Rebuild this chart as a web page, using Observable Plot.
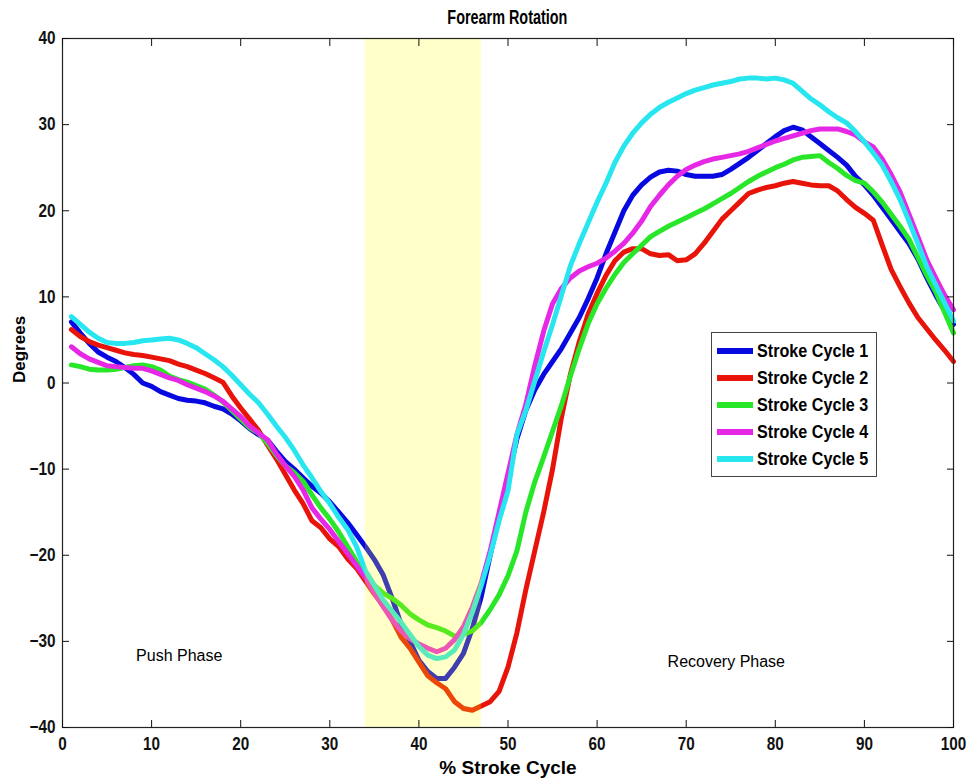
<!DOCTYPE html>
<html><head><meta charset="utf-8">
<script src="https://cdn.jsdelivr.net/npm/d3@7"></script>
<script src="https://cdn.jsdelivr.net/npm/@observablehq/plot@0.6"></script>
<style>
body{margin:0;background:#fff;}
#wrap{position:relative;width:970px;height:782px;font-family:"Liberation Sans",Arial,sans-serif;}
#title{position:absolute;left:62px;top:6px;width:891px;text-align:center;}
#title span{display:inline-block;font-weight:700;font-size:20px;color:#000;transform:scaleX(0.72);transform-origin:center;}
#legend{position:absolute;left:711px;top:332px;width:166px;height:145px;border:1px solid #444;background:#fff;box-sizing:border-box;padding-top:4px;}
.item{display:flex;align-items:center;height:27px;white-space:nowrap;}
.sw{width:36px;height:6px;margin-left:5px;margin-right:4px;flex:none;}
.lab{font-weight:bold;font-size:19px;color:#000;display:inline-block;transform:scaleX(0.85);transform-origin:left center;}
</style></head>
<body><div id="wrap"><div id="title"><span>Forearm Rotation</span></div><div id="chart"></div><div id="legend"></div></div>
<script>
const seriesNames = ["Stroke Cycle 1","Stroke Cycle 2","Stroke Cycle 3","Stroke Cycle 4","Stroke Cycle 5"];
const seriesColors = ["#0808e0","#e8140a","#28e628","#e628e6","#28e6f0"];
const pct = d3.range(1, 101);
const cycle1 = [7.1,5.8,4.6,3.6,3.0,2.5,1.8,1.0,0.0,-0.4,-1.0,-1.4,-1.8,-2.0,-2.1,-2.3,-2.7,-3.0,-3.6,-4.4,-5.3,-6.0,-6.6,-7.9,-9.1,-10.0,-11.0,-12.0,-12.8,-13.8,-15.0,-16.2,-17.6,-19.0,-20.5,-22.3,-25.0,-28.0,-30.0,-32.2,-33.5,-34.3,-34.3,-33.0,-31.4,-28.5,-24.8,-20.0,-15.5,-11.0,-6.5,-3.2,-0.8,1.0,2.5,4.0,5.8,7.6,9.8,12.2,15.0,17.5,20.0,21.8,23.0,23.9,24.5,24.7,24.6,24.2,24.0,24.0,24.0,24.2,24.8,25.5,26.2,27.0,27.8,28.6,29.3,29.7,29.4,28.6,27.8,27.0,26.2,25.3,24.0,23.0,21.8,20.4,19.0,17.6,16.2,14.4,12.2,10.2,8.4,6.8];
const cycle2 = [6.2,5.4,4.8,4.4,4.1,3.8,3.5,3.3,3.2,3.0,2.8,2.6,2.2,1.9,1.5,1.1,0.6,0.1,-1.5,-2.9,-4.2,-5.5,-7.2,-8.8,-10.6,-12.4,-14.0,-16.0,-16.8,-18.1,-19.0,-20.4,-21.5,-23.0,-24.5,-25.8,-27.5,-29.5,-30.8,-32.4,-34.0,-34.8,-35.5,-37.0,-37.8,-38.0,-37.5,-37.0,-35.8,-33.0,-29.0,-24.0,-19.5,-15.0,-10.0,-4.0,1.0,4.8,8.0,10.4,12.5,14.2,15.2,15.6,15.6,15.0,14.8,14.9,14.2,14.3,15.0,16.2,17.6,19.0,20.0,21.0,22.0,22.4,22.7,22.9,23.2,23.4,23.2,23.0,22.9,22.9,22.3,21.3,20.4,19.7,18.9,16.0,13.2,11.2,9.3,7.6,6.3,5.0,3.8,2.5];
const cycle3 = [2.1,1.9,1.6,1.5,1.5,1.6,1.8,2.0,2.1,1.9,1.5,0.8,0.4,0.1,-0.3,-0.7,-1.4,-2.2,-3.2,-4.2,-5.2,-5.8,-7.0,-8.4,-9.6,-10.4,-11.4,-13.0,-14.5,-15.8,-17.3,-19.0,-20.7,-22.3,-23.5,-24.4,-25.0,-25.8,-26.8,-27.5,-28.1,-28.4,-28.8,-29.4,-29.2,-28.8,-27.8,-26.3,-24.6,-22.4,-19.5,-15.0,-11.5,-8.6,-5.6,-2.6,0.8,4.0,6.9,9.2,11.0,12.6,14.0,15.0,16.0,17.0,17.6,18.2,18.7,19.2,19.7,20.2,20.8,21.4,22.0,22.7,23.4,24.0,24.5,25.0,25.4,25.9,26.2,26.3,26.4,25.6,24.9,24.1,23.5,23.2,22.2,21.0,19.6,18.2,16.7,14.6,12.5,10.6,8.2,5.8];
const cycle4 = [4.2,3.4,2.8,2.4,2.0,1.9,1.8,1.7,1.7,1.4,1.0,0.6,0.3,-0.2,-0.6,-1.0,-1.5,-2.1,-3.0,-3.9,-5.0,-5.8,-6.6,-8.2,-9.6,-10.8,-12.4,-14.5,-15.8,-17.0,-18.4,-19.8,-21.2,-22.6,-24.4,-26.0,-27.5,-28.8,-29.7,-30.3,-30.8,-31.2,-30.8,-29.8,-28.3,-26.0,-23.2,-19.5,-15.0,-10.5,-6.0,-2.5,2.0,6.0,9.2,11.0,12.2,13.0,13.5,13.9,14.5,15.3,16.2,17.4,18.8,20.5,21.8,23.0,24.0,24.8,25.3,25.7,26.0,26.2,26.4,26.6,26.9,27.3,27.7,28.1,28.4,28.7,29.0,29.3,29.5,29.5,29.5,29.2,28.8,28.0,27.4,26.0,24.2,22.2,19.6,17.0,14.3,12.2,10.2,8.5];
const cycle5 = [7.7,6.8,5.9,5.2,4.7,4.6,4.6,4.7,4.9,5.0,5.1,5.2,5.0,4.6,4.1,3.4,2.7,1.9,0.9,-0.2,-1.3,-2.3,-3.6,-5.0,-6.3,-7.8,-9.5,-11.0,-12.6,-14.0,-15.6,-17.0,-19.0,-21.8,-23.5,-25.2,-26.5,-27.8,-29.2,-30.6,-31.6,-32.0,-31.8,-31.0,-29.2,-26.6,-23.5,-20.0,-16.0,-12.5,-6.0,-3.2,0.2,3.6,6.8,10.2,13.6,16.2,18.6,21.0,23.2,25.6,27.5,29.0,30.2,31.2,32.0,32.6,33.1,33.6,34.0,34.3,34.6,34.8,35.0,35.3,35.4,35.4,35.3,35.4,35.2,34.8,33.9,33.0,32.3,31.5,30.8,30.2,29.2,28.0,26.7,25.3,23.4,21.3,18.8,16.2,13.5,11.4,9.3,7.2];
const xTicks = [0,10,20,30,40,50,60,70,80,90,100];
const yTicks = [-40,-30,-20,-10,0,10,20,30,40];
const shadedPhase = [{start: 34, end: 47}];
const phaseLabels = [{label: "Push Phase", x: 13.1, y: -31.7}, {label: "Recovery Phase", x: 74.5, y: -32.4}];

const allSeries = [cycle1, cycle2, cycle3, cycle4, cycle5];
const rows = allSeries.flatMap((vals, i) => vals.map((v, j) => ({cycle: seriesNames[i], pct: pct[j], deg: v})));

const chart = Plot.plot({
  width: 970, height: 782,
  marginTop: 38, marginBottom: 55, marginLeft: 62, marginRight: 17,
  style: {fontFamily: '"Liberation Sans",Arial,sans-serif', fontSize: "18px", fontWeight: "bold", color: "#111", background: "transparent"},
  x: {domain: [0, 100]},
  y: {domain: [-40, 40]},
  color: {domain: seriesNames, range: seriesColors},
  marks: [
    Plot.line(rows, {x: "pct", y: "deg", z: "cycle", stroke: "cycle", strokeWidth: 5, strokeLinejoin: "round", strokeLinecap: "round"}),
    Plot.rect(shadedPhase, {x1: "start", x2: "end", fill: "#ffff00", fillOpacity: 0.22}),
    Plot.text(phaseLabels, {x: "x", y: "y", text: "label", fontSize: 16, fontWeight: "normal", fill: "#000"}),
    Plot.frame({stroke: "#222", strokeWidth: 1.2}),
    Plot.axisX({anchor: "bottom", ticks: xTicks, tickSize: -7, tickPadding: 17, label: null}),
    Plot.axisX({anchor: "top", ticks: xTicks, tickSize: -7, tickFormat: () => "", label: null}),
    Plot.axisY({anchor: "left", ticks: yTicks, tickSize: -7, tickPadding: 14, label: null}),
    Plot.axisY({anchor: "right", ticks: yTicks, tickSize: -7, tickFormat: () => "", label: null}),
    Plot.text(["% Stroke Cycle"], {frameAnchor: "bottom", dy: 46, fontSize: 19, fill: "#000", ariaLabel: "x-title"}),
    Plot.text(["Degrees"], {frameAnchor: "left", dx: -43, rotate: -90, fontSize: 17, fill: "#000", ariaLabel: "y-title"})
  ]
});
document.getElementById("chart").appendChild(chart);

// condense bold labels to mimic the narrow font of the original
function squeeze(selector, factor) {
  chart.querySelectorAll(selector).forEach(el => {
    if (!el.textContent) return;
    const w = el.getComputedTextLength();
    el.setAttribute("textLength", (w * factor).toFixed(1));
    el.setAttribute("lengthAdjust", "spacingAndGlyphs");
  });
}
squeeze('g[aria-label="x-axis tick label"] text', 0.85);
squeeze('g[aria-label="y-axis tick label"] text', 0.85);
squeeze('g[aria-label="x-title"] text', 0.88);

const legend = d3.select("#legend");
seriesNames.forEach((name, i) => {
  const it = legend.append("div").attr("class", "item");
  it.append("div").attr("class", "sw").style("background", seriesColors[i]);
  it.append("span").attr("class", "lab").text(name);
});
</script></body></html>
